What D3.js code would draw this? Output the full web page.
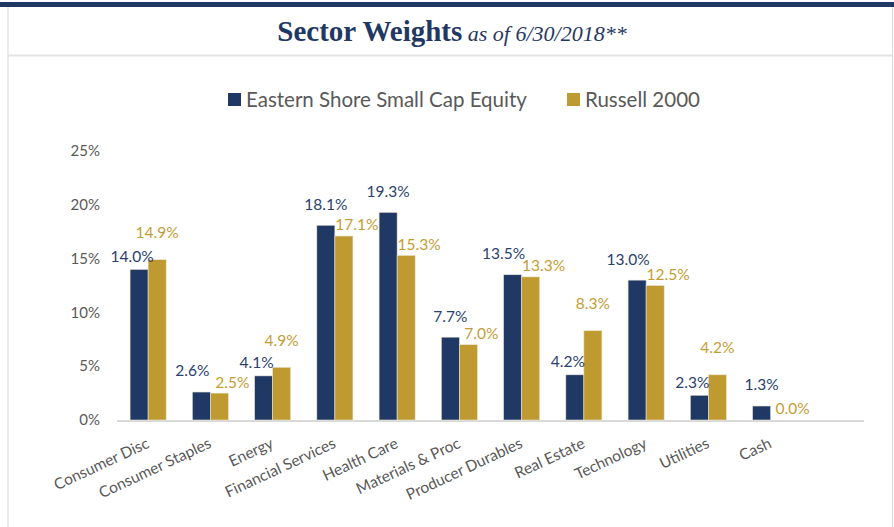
<!DOCTYPE html>
<html>
<head>
<meta charset="utf-8">
<script src="https://cdn.jsdelivr.net/npm/d3@7"></script>
<style>
  body { margin: 0; background: #fff; }
  svg { display: block; font-family: Lato, "Open Sans", sans-serif; }
</style>
</head>
<body>
<div id="chart"></div>
<script>
(function() {

  // -----------------------------
  // 1. DATA
  // -----------------------------
  const sectors = [
    "Consumer Disc", "Consumer Staples", "Energy", "Financial Services",
    "Health Care", "Materials & Proc", "Producer Durables", "Real Estate",
    "Technology", "Utilities", "Cash"
  ];
  const seriesNames = ["Eastern Shore Small Cap Equity", "Russell 2000"];
  const fund  = [14.0, 2.6, 4.1, 18.1, 19.3, 7.7, 13.5, 4.2, 13.0, 2.3, 1.3];
  const bench = [14.9, 2.5, 4.9, 17.1, 15.3, 7.0, 13.3, 8.3, 12.5, 4.2, 0.0];
  const yTicks = [0, 5, 10, 15, 20, 25];

  // -----------------------------
  // 2. SVG SETUP
  // -----------------------------
  const width = 894, height = 527;
  const navy = "#1f3864", gold = "#bf9a30";
  const navyText = "#2a4170", goldText = "#c49d35";
  const colors = [navy, gold];
  const labelColors = [navyText, goldText];

  const svg = d3.select("#chart").append("svg")
      .attr("width", width)
      .attr("height", height);

  // frame
  svg.append("rect").attr("x", 0).attr("y", 2).attr("width", width).attr("height", 5).attr("fill", navy);
  svg.append("line").attr("x1", 8).attr("x2", 8).attr("y1", 7).attr("y2", height).attr("stroke", "#d9d9d9");
  svg.append("line").attr("x1", 892.5).attr("x2", 892.5).attr("y1", 7).attr("y2", height).attr("stroke", "#d9d9d9");
  svg.append("line").attr("x1", 8).attr("x2", 892).attr("y1", 55.5).attr("y2", 55.5)
      .attr("stroke", "#e3e3e3").attr("stroke-width", 2);

  // Title
  const title = svg.append("text")
      .attr("x", 452)
      .attr("y", 41)
      .attr("text-anchor", "middle")
      .attr("fill", navy)
      .style("font-family", "'Liberation Serif', 'DejaVu Serif', serif");
  title.append("tspan").attr("font-size", 29).attr("font-weight", "bold").text("Sector Weights");
  title.append("tspan").attr("font-size", 22).attr("font-style", "italic").text(" as of 6/30/2018**");

  // -----------------------------
  // 3. SCALES
  // -----------------------------
  const plot = {left: 117, right: 864, top: 151, bottom: 420};
  const step = (plot.right - plot.left) / (sectors.length + 1);
  const x = d3.scaleBand()
      .domain(sectors)
      .range([plot.left, plot.left + step * sectors.length])
      .paddingInner(0.42)
      .paddingOuter(0.21);
  const xs = d3.scaleBand().domain([0, 1]).range([0, x.bandwidth()]);
  const y = d3.scaleLinear().domain([0, 25]).range([plot.bottom, plot.top]);

  // -----------------------------
  // 4. LEGEND
  // -----------------------------
  const legendX = [228, 567];
  seriesNames.forEach((name, i) => {
    svg.append("rect")
        .attr("x", legendX[i]).attr("y", 93)
        .attr("width", 13).attr("height", 13)
        .attr("fill", colors[i]);
    svg.append("text")
        .attr("x", legendX[i] + 18).attr("y", 107)
        .attr("font-size", 20.5)
        .attr("fill", "#595959")
        .text(name);
  });

  // -----------------------------
  // 5. AXES
  // -----------------------------
  svg.append("g")
      .selectAll("text")
      .data(yTicks)
      .enter().append("text")
      .attr("x", 100)
      .attr("y", d => y(d))
      .attr("dy", "0.35em")
      .attr("text-anchor", "end")
      .attr("font-size", 15)
      .attr("fill", "#595959")
      .text(d => d + "%");

  svg.append("line")
      .attr("x1", plot.left).attr("x2", plot.right)
      .attr("y1", plot.bottom + 1).attr("y2", plot.bottom + 1)
      .attr("stroke", "#d9d9d9").attr("stroke-width", 2);

  svg.append("g")
      .selectAll("text")
      .data(sectors)
      .enter().append("text")
      .attr("text-anchor", "end")
      .attr("font-size", 15.5)
      .attr("fill", "#595959")
      .attr("transform", d => `translate(${x(d) + x.bandwidth() / 2 + 2},${plot.bottom + 27}) rotate(-25)`)
      .text(d => d);

  // -----------------------------
  // 6. BARS
  // -----------------------------
  const rows = sectors.map((s, i) => [fund[i], bench[i]]);
  const groups = svg.append("g").selectAll("g")
      .data(rows)
      .enter().append("g")
      .attr("transform", (d, i) => `translate(${x(sectors[i])},0)`);

  groups.selectAll("rect")
      .data(d => d.map((v, k) => ({v, k})))
      .enter().append("rect")
      .attr("x", d => xs(d.k))
      .attr("width", xs.bandwidth())
      .attr("y", d => y(d.v))
      .attr("height", d => y(0) - y(d.v))
      .attr("fill", d => colors[d.k])
      .attr("stroke", d => d.v > 0 ? "#e9e4d4" : "none")
      .attr("stroke-width", 0.6);

  // -----------------------------
  // 7. DATA LABELS (simple collision nudging)
  // -----------------------------
  const labelW = 38, labelH = 16;
  rows.forEach((pair, i) => {
    const x0 = x(sectors[i]);
    const nx = x0 + xs(0) + xs.bandwidth() / 2;
    const gx = x0 + xs(1) + xs.bandwidth() / 2;
    let nlx, nly, glx, gly;
    if (pair[0] >= pair[1]) {
      // navy taller: navy label above, gold label tucked to the right
      nlx = nx; nly = y(pair[0]) - 21;
      glx = gx + 13; gly = y(pair[1]) - 11;
    } else {
      // gold taller: gold label higher, navy label pushed left
      glx = gx; gly = y(pair[1]) - 27;
      nlx = nx - 7; nly = y(pair[0]) - 13;
    }
    // resolve overlap by pushing the navy label left
    if (Math.abs(nly - gly) < labelH && glx - nlx < labelW + 2) {
      nlx = glx - labelW - 2;
    }
    [[nlx, nly, 0], [glx, gly, 1]].forEach(([lx, ly, k]) => {
      svg.append("text")
          .attr("x", lx)
          .attr("y", ly)
          .attr("dy", "0.35em")
          .attr("text-anchor", "middle")
          .attr("font-size", 15.5)
          .attr("fill", labelColors[k])
          .text(pair[k].toFixed(1) + "%");
    });
  });

})();
</script>
</body>
</html>
